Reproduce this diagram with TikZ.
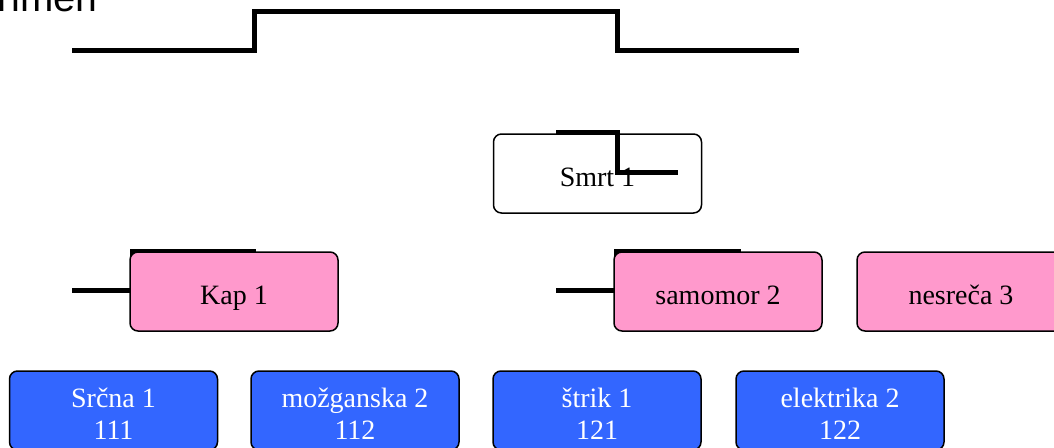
\documentclass[tikz,border=0pt]{standalone}
\usepackage{fontspec}
\setmainfont{Liberation Serif}
\newfontfamily\titlefont{Liberation Sans}

\begin{document}
\begin{tikzpicture}[x=1pt, y=-1pt,
    box/.style={draw=black, line width=1.5pt, rounded corners=8pt,
        minimum width=208pt, minimum height=79pt, inner sep=0pt,
        align=center, font=\fontsize{28}{32}\selectfont,
        text height=27pt, text depth=2pt},
    kindbox/.style={box, fill=kindColour, text=white, text height=60pt, text depth=3pt},
    conn/.style={line width=5pt, line cap=butt}]
    \def\rowA{173.5}
    \def\rowB{291.5}
    \def\rowC{410.5}

    \definecolor{causeColour}{HTML}{FF99CC}
    \definecolor{kindColour}{HTML}{3366FF}

    \useasboundingbox (0,0) rectangle (1054,447);

    % Title
    \node[anchor=base west, inner sep=0pt, font=\titlefont\fontsize{40}{44}\selectfont] (title) at (-29,12) {Primeri};

    % Top connector
    \coordinate (topL) at (72,50.5);
    \coordinate (topA) at (254,11);
    \coordinate (topB) at (617,11);
    \coordinate (topR) at (799,50.5);
    \draw[conn] (topL) -| (topA) -- (topB) |- (topR);

    % Root
    \node[box, fill=white] (smrt) at (597.5,\rowA) {Smrt 1};
    \coordinate (smrtA) at (556,132);
    \coordinate (smrtB) at (678,172);
    \draw[conn] (smrtA) -- ++(61,0) |- (smrtB);

    % Causes
    \coordinate (kapA) at (72,290);
    \coordinate (kapB) at (256,251);
    \draw[conn] (kapA) -- ++(60.5,0) |- (kapB);
    \coordinate (samA) at (556,290);
    \coordinate (samB) at (741,251);
    \draw[conn] (samA) -- ++(60.5,0) |- (samB);

    \node[box, fill=causeColour] (kap) at (234,\rowB) {Kap 1};
    \node[box, fill=causeColour] (samomor) at (718,\rowB) {samomor 2};
    \node[box, fill=causeColour] (nesreca) at (961,\rowB) {nesreča 3};

    % Kinds
    \node[kindbox] (srcna) at (113.5,\rowC) {Srčna 1\\111};
    \node[kindbox] (mozganska) at (355,\rowC) {možganska 2\\112};
    \node[kindbox] (strik) at (597,\rowC) {štrik 1\\121};
    \node[kindbox] (elektrika) at (840,\rowC) {elektrika 2\\122};

\end{tikzpicture}
\end{document}
